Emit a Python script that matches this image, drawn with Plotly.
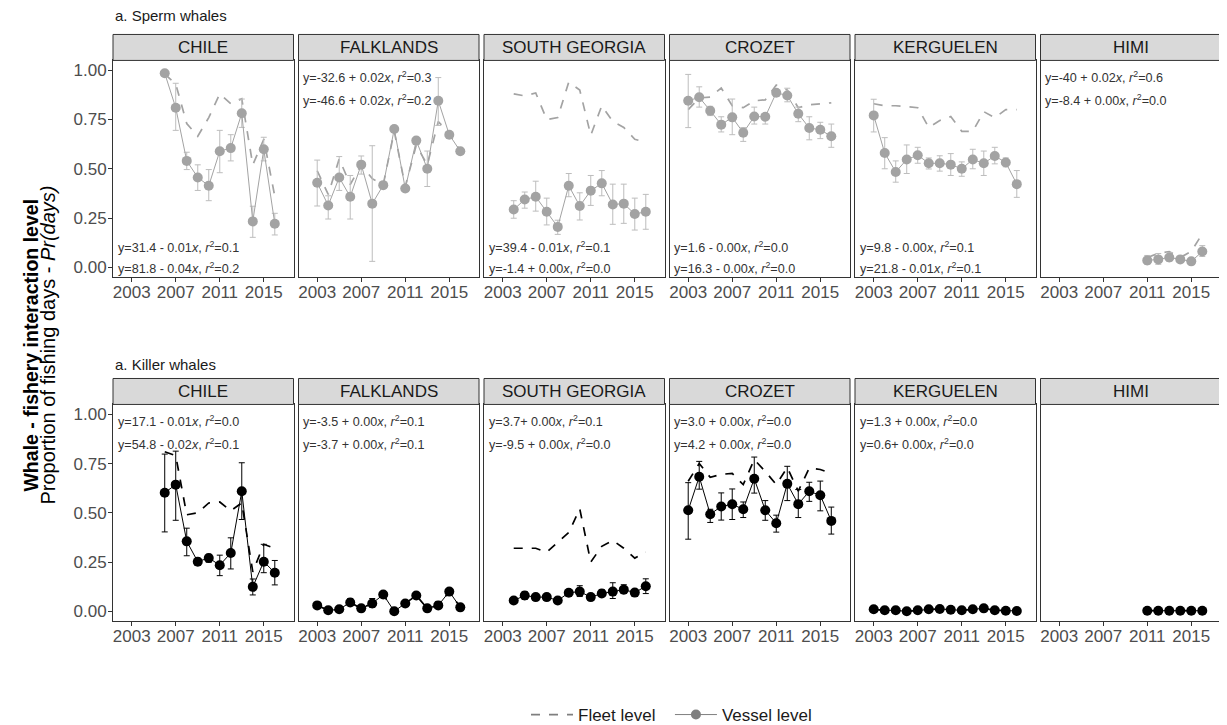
import plotly.graph_objects as go

W, H = 1227, 725
regions = ["CHILE", "FALKLANDS", "SOUTH GEORGIA", "CROZET", "KERGUELEN", "HIMI"]

# ---------------- Sperm whales ----------------
sp_chile_years = list(range(2006, 2017))
sp_chile_vessel = [0.985, 0.81, 0.54, 0.456, 0.414, 0.589, 0.605, 0.782, 0.233, 0.599, 0.221]
sp_chile_upper = [0.99, 0.934, 0.584, 0.52, 0.496, 0.695, 0.673, 0.854, 0.31, 0.66, 0.274]
sp_chile_lower = [0.98, 0.695, 0.496, 0.39, 0.338, 0.48, 0.54, 0.71, 0.152, 0.54, 0.164]
sp_chile_fleet = [0.98, 0.93, 0.73, 0.665, 0.76, 0.88, 0.83, 0.855, 0.52, 0.65, 0.36]

sp_falk_years = list(range(2003, 2017))
sp_falk_vessel = [0.429, 0.314, 0.456, 0.358, 0.521, 0.323, 0.417, 0.702, 0.40, 0.643, 0.50, 0.845, 0.673, 0.589]
sp_falk_upper = [0.544, 0.363, 0.562, 0.466, 0.565, 0.617, 0.43, 0.715, 0.415, 0.655, 0.59, 0.963, 0.685, 0.60]
sp_falk_lower = [0.311, 0.245, 0.39, 0.245, 0.473, 0.03, 0.405, 0.69, 0.385, 0.63, 0.41, 0.72, 0.66, 0.575]
sp_falk_fleet = [0.49, 0.37, 0.55, 0.42, 0.52, 0.45, 0.42, 0.69, 0.41, 0.62, 0.52, 0.74, 0.68, 0.59]

sp_sg_years = list(range(2004, 2017))
sp_sg_vessel = [0.293, 0.344, 0.358, 0.282, 0.205, 0.414, 0.311, 0.389, 0.426, 0.319, 0.323, 0.27, 0.282]
sp_sg_upper = [0.338, 0.382, 0.437, 0.351, 0.239, 0.476, 0.378, 0.466, 0.491, 0.422, 0.422, 0.351, 0.37]
sp_sg_lower = [0.249, 0.30, 0.285, 0.215, 0.167, 0.358, 0.24, 0.314, 0.363, 0.218, 0.223, 0.189, 0.193]
sp_sg_fleet = [0.88, 0.87, 0.885, 0.75, 0.76, 0.94, 0.90, 0.67, 0.82, 0.74, 0.71, 0.65, 0.635]

sp_cro_years = list(range(2003, 2017))
sp_cro_vessel = [0.845, 0.863, 0.795, 0.724, 0.761, 0.683, 0.765, 0.764, 0.886, 0.872, 0.779, 0.707, 0.698, 0.665]
sp_cro_upper = [0.979, 0.916, 0.817, 0.764, 0.854, 0.709, 0.813, 0.78, 0.90, 0.909, 0.813, 0.764, 0.736, 0.727]
sp_cro_lower = [0.709, 0.813, 0.77, 0.687, 0.673, 0.639, 0.727, 0.727, 0.87, 0.84, 0.739, 0.647, 0.653, 0.609]
sp_cro_fleet = [0.80, 0.86, 0.864, 0.91, 0.82, 0.81, 0.845, 0.85, 0.925, 0.90, 0.81, 0.825, 0.83, 0.835]

sp_ker_years = list(range(2003, 2017))
sp_ker_vessel = [0.771, 0.58, 0.484, 0.547, 0.569, 0.528, 0.528, 0.521, 0.50, 0.547, 0.528, 0.565, 0.532, 0.422]
sp_ker_upper = [0.853, 0.658, 0.54, 0.621, 0.609, 0.555, 0.566, 0.577, 0.535, 0.599, 0.59, 0.609, 0.555, 0.491]
sp_ker_lower = [0.687, 0.50, 0.432, 0.476, 0.528, 0.499, 0.488, 0.466, 0.462, 0.50, 0.466, 0.525, 0.51, 0.355]
sp_ker_fleet = [0.83, 0.82, 0.82, 0.815, 0.81, 0.71, 0.745, 0.765, 0.69, 0.69, 0.79, 0.76, 0.80, 0.80]

sp_himi_years = list(range(2011, 2017))
sp_himi_vessel = [0.035, 0.04, 0.05, 0.04, 0.03, 0.08]
sp_himi_upper = [0.06, 0.07, 0.075, 0.05, 0.04, 0.11]
sp_himi_lower = [0.015, 0.015, 0.03, 0.03, 0.02, 0.055]
sp_himi_fleet = [0.05, 0.07, 0.08, 0.05, 0.08, 0.17]

# ---------------- Killer whales ----------------
kw_chile_years = list(range(2006, 2017))
kw_chile_vessel = [0.602, 0.643, 0.355, 0.252, 0.271, 0.234, 0.296, 0.609, 0.124, 0.252, 0.196]
kw_chile_upper = [0.798, 0.813, 0.422, 0.27, 0.289, 0.285, 0.373, 0.754, 0.164, 0.34, 0.258]
kw_chile_lower = [0.403, 0.462, 0.282, 0.234, 0.249, 0.181, 0.215, 0.466, 0.083, 0.196, 0.134]
kw_chile_fleet = [0.81, 0.79, 0.49, 0.50, 0.55, 0.555, 0.51, 0.55, 0.20, 0.34, 0.32]

kw_falk_years = list(range(2003, 2017))
kw_falk_vessel = [0.03, 0.005, 0.01, 0.045, 0.015, 0.04, 0.085, 0.0, 0.04, 0.08, 0.015, 0.03, 0.10, 0.02]
kw_falk_upper = [0.045, 0.01, 0.02, 0.065, 0.025, 0.065, 0.095, 0.005, 0.05, 0.09, 0.025, 0.05, 0.11, 0.03]
kw_falk_lower = [0.02, 0.0, 0.0, 0.03, 0.005, 0.02, 0.075, 0.0, 0.03, 0.07, 0.005, 0.015, 0.09, 0.01]
kw_falk_fleet = [0.03, 0.005, 0.01, 0.045, 0.015, 0.04, 0.085, 0.0, 0.04, 0.08, 0.015, 0.03, 0.10, 0.02]

kw_sg_years = list(range(2004, 2017))
kw_sg_vessel = [0.055, 0.08, 0.072, 0.072, 0.055, 0.094, 0.10, 0.072, 0.09, 0.10, 0.11, 0.095, 0.127]
kw_sg_upper = [0.065, 0.10, 0.085, 0.085, 0.06, 0.11, 0.13, 0.08, 0.11, 0.145, 0.135, 0.105, 0.165]
kw_sg_lower = [0.045, 0.06, 0.06, 0.06, 0.05, 0.08, 0.075, 0.065, 0.075, 0.065, 0.09, 0.085, 0.09]
kw_sg_fleet = [0.32, 0.32, 0.32, 0.30, 0.35, 0.40, 0.52, 0.25, 0.33, 0.36, 0.32, 0.27, 0.30]

kw_cro_years = list(range(2003, 2017))
kw_cro_vessel = [0.513, 0.683, 0.493, 0.532, 0.543, 0.518, 0.673, 0.513, 0.447, 0.647, 0.544, 0.609, 0.589, 0.459]
kw_cro_upper = [0.653, 0.761, 0.518, 0.601, 0.621, 0.555, 0.783, 0.562, 0.488, 0.736, 0.618, 0.655, 0.661, 0.529]
kw_cro_lower = [0.366, 0.62, 0.451, 0.463, 0.466, 0.476, 0.60, 0.462, 0.402, 0.562, 0.476, 0.558, 0.51, 0.392]
kw_cro_fleet = [0.66, 0.75, 0.68, 0.695, 0.70, 0.643, 0.77, 0.71, 0.643, 0.73, 0.61, 0.727, 0.72, 0.70]

kw_ker_years = list(range(2003, 2017))
kw_ker_vessel = [0.01, 0.005, 0.005, 0.0, 0.005, 0.01, 0.012, 0.008, 0.005, 0.01, 0.015, 0.005, 0.003, 0.002]
kw_ker_upper = [0.015, 0.01, 0.01, 0.003, 0.01, 0.015, 0.018, 0.012, 0.01, 0.015, 0.022, 0.01, 0.006, 0.004]
kw_ker_lower = [0.005, 0.0, 0.0, 0.0, 0.0, 0.005, 0.006, 0.004, 0.0, 0.005, 0.008, 0.0, 0.0, 0.0]
kw_ker_fleet = [0.01, 0.005, 0.005, 0.0, 0.005, 0.01, 0.012, 0.008, 0.005, 0.01, 0.015, 0.005, 0.003, 0.002]

kw_himi_years = list(range(2011, 2017))
kw_himi_vessel = [0.003, 0.003, 0.003, 0.003, 0.003, 0.003]
kw_himi_upper = [0.005, 0.005, 0.005, 0.005, 0.005, 0.005]
kw_himi_lower = [0.001, 0.001, 0.001, 0.001, 0.001, 0.001]
kw_himi_fleet = [0.003, 0.003, 0.003, 0.003, 0.003, 0.003]

sperm = [
    (sp_chile_years, sp_chile_vessel, sp_chile_upper, sp_chile_lower, sp_chile_fleet),
    (sp_falk_years, sp_falk_vessel, sp_falk_upper, sp_falk_lower, sp_falk_fleet),
    (sp_sg_years, sp_sg_vessel, sp_sg_upper, sp_sg_lower, sp_sg_fleet),
    (sp_cro_years, sp_cro_vessel, sp_cro_upper, sp_cro_lower, sp_cro_fleet),
    (sp_ker_years, sp_ker_vessel, sp_ker_upper, sp_ker_lower, sp_ker_fleet),
    (sp_himi_years, sp_himi_vessel, sp_himi_upper, sp_himi_lower, sp_himi_fleet),
]
killer = [
    (kw_chile_years, kw_chile_vessel, kw_chile_upper, kw_chile_lower, kw_chile_fleet),
    (kw_falk_years, kw_falk_vessel, kw_falk_upper, kw_falk_lower, kw_falk_fleet),
    (kw_sg_years, kw_sg_vessel, kw_sg_upper, kw_sg_lower, kw_sg_fleet),
    (kw_cro_years, kw_cro_vessel, kw_cro_upper, kw_cro_lower, kw_cro_fleet),
    (kw_ker_years, kw_ker_vessel, kw_ker_upper, kw_ker_lower, kw_ker_fleet),
    (kw_himi_years, kw_himi_vessel, kw_himi_upper, kw_himi_lower, kw_himi_fleet),
]

R2 = "<i>r</i><sup>2</sup>"
sperm_eq = [
    ("y=31.4 - 0.01<i>x</i>, " + R2 + "=0.1", "y=81.8 - 0.04<i>x</i>, " + R2 + "=0.2", "bottom"),
    ("y=-32.6 + 0.02<i>x</i>, " + R2 + "=0.3", "y=-46.6 + 0.02<i>x</i>, " + R2 + "=0.2", "top"),
    ("y=39.4 - 0.01<i>x</i>, " + R2 + "=0.1", "y=-1.4 + 0.00<i>x</i>, " + R2 + "=0.0", "bottom"),
    ("y=1.6 - 0.00<i>x</i>, " + R2 + "=0.0", "y=16.3 - 0.00<i>x</i>, " + R2 + "=0.0", "bottom"),
    ("y=9.8 - 0.00<i>x</i>, " + R2 + "=0.1", "y=21.8 - 0.01<i>x</i>, " + R2 + "=0.1", "bottom"),
    ("y=-40 + 0.02<i>x</i>, " + R2 + "=0.6", "y=-8.4 + 0.00<i>x</i>, " + R2 + "=0.0", "top"),
]
killer_eq = [
    ("y=17.1 - 0.01<i>x</i>, " + R2 + "=0.0", "y=54.8 - 0.02<i>x</i>, " + R2 + "=0.1", "top"),
    ("y=-3.5 + 0.00<i>x</i>, " + R2 + "=0.1", "y=-3.7 + 0.00<i>x</i>, " + R2 + "=0.1", "top"),
    ("y=3.7+ 0.00<i>x</i>, " + R2 + "=0.1", "y=-9.5 + 0.00<i>x</i>, " + R2 + "=0.0", "top"),
    ("y=3.0 + 0.00<i>x</i>, " + R2 + "=0.0", "y=4.2 + 0.00<i>x</i>, " + R2 + "=0.0", "top"),
    ("y=1.3 + 0.00<i>x</i>, " + R2 + "=0.0", "y=0.6+ 0.00<i>x</i>, " + R2 + "=0.0", "top"),
    None,
]

x_ticks = [2003, 2007, 2011, 2015]
y_ticks = [0, 0.25, 0.5, 0.75, 1.0]
y_ticktext = ["0.00", "0.25", "0.50", "0.75", "1.00"]

FONT = "Liberation Sans, Arial, sans-serif"

# layout geometry (pixels, figure coordinates)
col_left = [105, 290.5, 476, 661.5, 847, 1032.5]
col_w = 180.5
rows_px = [  # (strip_top, plot_top, plot_bottom)
    (26.5, 52.5, 269.5),
    (371, 397, 614),
]

fig = go.Figure()
layout_axes = {}
shapes = []
annotations = []


def px_x(p):
    return p / W


def px_y(p):
    return 1 - p / H


for r, (data, eqs, col_main, col_err) in enumerate([
        (sperm, sperm_eq, "#a3a3a3", "#bdbdbd"),
        (killer, killer_eq, "#000000", "#000000")]):
    st, pt, pb = rows_px[r]
    for c in range(6):
        idx = r * 6 + c + 1
        xa = "x" if idx == 1 else f"x{idx}"
        ya = "y" if idx == 1 else f"y{idx}"
        xkey = "xaxis" if idx == 1 else f"xaxis{idx}"
        ykey = "yaxis" if idx == 1 else f"yaxis{idx}"
        x0, x1 = col_left[c], col_left[c] + col_w
        layout_axes[xkey] = dict(
            domain=[px_x(x0), px_x(x1)], anchor=ya, range=[2001.3, 2017.7],
            tickvals=x_ticks, ticks="outside", ticklen=4, tickcolor="#333333",
            ticklabelstandoff=-5,
            showline=True, mirror=True, linecolor="#333333", linewidth=1,
            showgrid=False, zeroline=False,
            tickfont=dict(family=FONT, size=17, color="#4d4d4d"))
        layout_axes[ykey] = dict(
            domain=[px_y(pb), px_y(pt)], anchor=xa, range=[-0.05, 1.05],
            tickvals=y_ticks, ticktext=y_ticktext,
            ticks="outside" if c == 0 else "", ticklen=4, tickcolor="#333333",
            ticklabelstandoff=-2,
            showticklabels=(c == 0),
            showline=True, mirror=True, linecolor="#333333", linewidth=1,
            showgrid=False, zeroline=False,
            tickfont=dict(family=FONT, size=17, color="#4d4d4d"))
        years, vessel, upper, lower, fleet = data[c]
        fig.add_trace(go.Scatter(
            x=years, y=fleet, mode="lines", xaxis=xa, yaxis=ya,
            line=dict(color=col_main, width=1.7, dash="dash"), showlegend=False))
        fig.add_trace(go.Scatter(
            x=years, y=vessel, mode="lines+markers", xaxis=xa, yaxis=ya,
            line=dict(color=col_main, width=1),
            marker=dict(color=col_main, size=10),
            error_y=dict(type="data", symmetric=False,
                         array=[u - v for u, v in zip(upper, vessel)],
                         arrayminus=[v - l for v, l in zip(vessel, lower)],
                         color=col_err, thickness=1, width=3),
            showlegend=False))
        shapes.append(dict(type="rect", xref="paper", yref="paper",
                           x0=px_x(x0), x1=px_x(x1), y0=px_y(pt), y1=px_y(st),
                           fillcolor="#d9d9d9", line=dict(color="#333333", width=1)))
        annotations.append(dict(xref="paper", yref="paper", x=px_x((x0 + x1) / 2),
                                y=px_y((st + pt) / 2), text=regions[c], showarrow=False,
                                font=dict(family=FONT, size=17, color="#1a1a1a"),
                                xanchor="center", yanchor="middle"))
        eq = eqs[c]
        if eq is not None:
            l1, l2, pos = eq
            ys = [0.965, 0.85] if pos == "top" else [0.105, -0.005]
            for txt, yv in zip([l1, l2], ys):
                annotations.append(dict(xref=xa, yref=ya, x=2001.55, y=yv, text=txt,
                                        showarrow=False, xanchor="left", yanchor="middle",
                                        font=dict(family=FONT, size=12.6, color="#333333")))

annotations.append(dict(xref="paper", yref="paper", x=px_x(105), y=px_y(7.5),
                        text="a. Sperm whales", showarrow=False, xanchor="left", yanchor="middle",
                        font=dict(family=FONT, size=15, color="#1a1a1a")))
annotations.append(dict(xref="paper", yref="paper", x=px_x(105), y=px_y(357),
                        text="a. Killer whales", showarrow=False, xanchor="left", yanchor="middle",
                        font=dict(family=FONT, size=15, color="#1a1a1a")))
annotations.append(dict(xref="paper", yref="paper", x=px_x(23), y=px_y(338),
                        text="<b>Whale - fishery interaction level</b>", showarrow=False,
                        textangle=-90, xanchor="center", yanchor="middle",
                        font=dict(family=FONT, size=19.5, color="#000000")))
annotations.append(dict(xref="paper", yref="paper", x=px_x(40), y=px_y(338),
                        text="Proportion of fishing days - <i>Pr(days)</i>", showarrow=False,
                        textangle=-90, xanchor="center", yanchor="middle",
                        font=dict(family=FONT, size=20, color="#000000")))

fig.add_trace(go.Scatter(x=[None], y=[None], mode="lines", name="Fleet level  ",
                         line=dict(color="#7f7f7f", width=1.7, dash="dash")))
fig.add_trace(go.Scatter(x=[None], y=[None], mode="lines+markers", name="Vessel level",
                         line=dict(color="#7f7f7f", width=1), marker=dict(color="#7f7f7f", size=10)))

fig.update_layout(
    width=W, height=H, margin=dict(l=0, r=0, t=0, b=0),
    paper_bgcolor="white", plot_bgcolor="white",
    shapes=shapes, annotations=annotations,
    legend=dict(orientation="h", x=663.5 / W, xanchor="center", y=px_y(708), yanchor="middle",
                itemwidth=42,
                font=dict(family=FONT, size=17, color="#1a1a1a"), bgcolor="rgba(0,0,0,0)"),
    **layout_axes)

fig.write_html("out.html")
